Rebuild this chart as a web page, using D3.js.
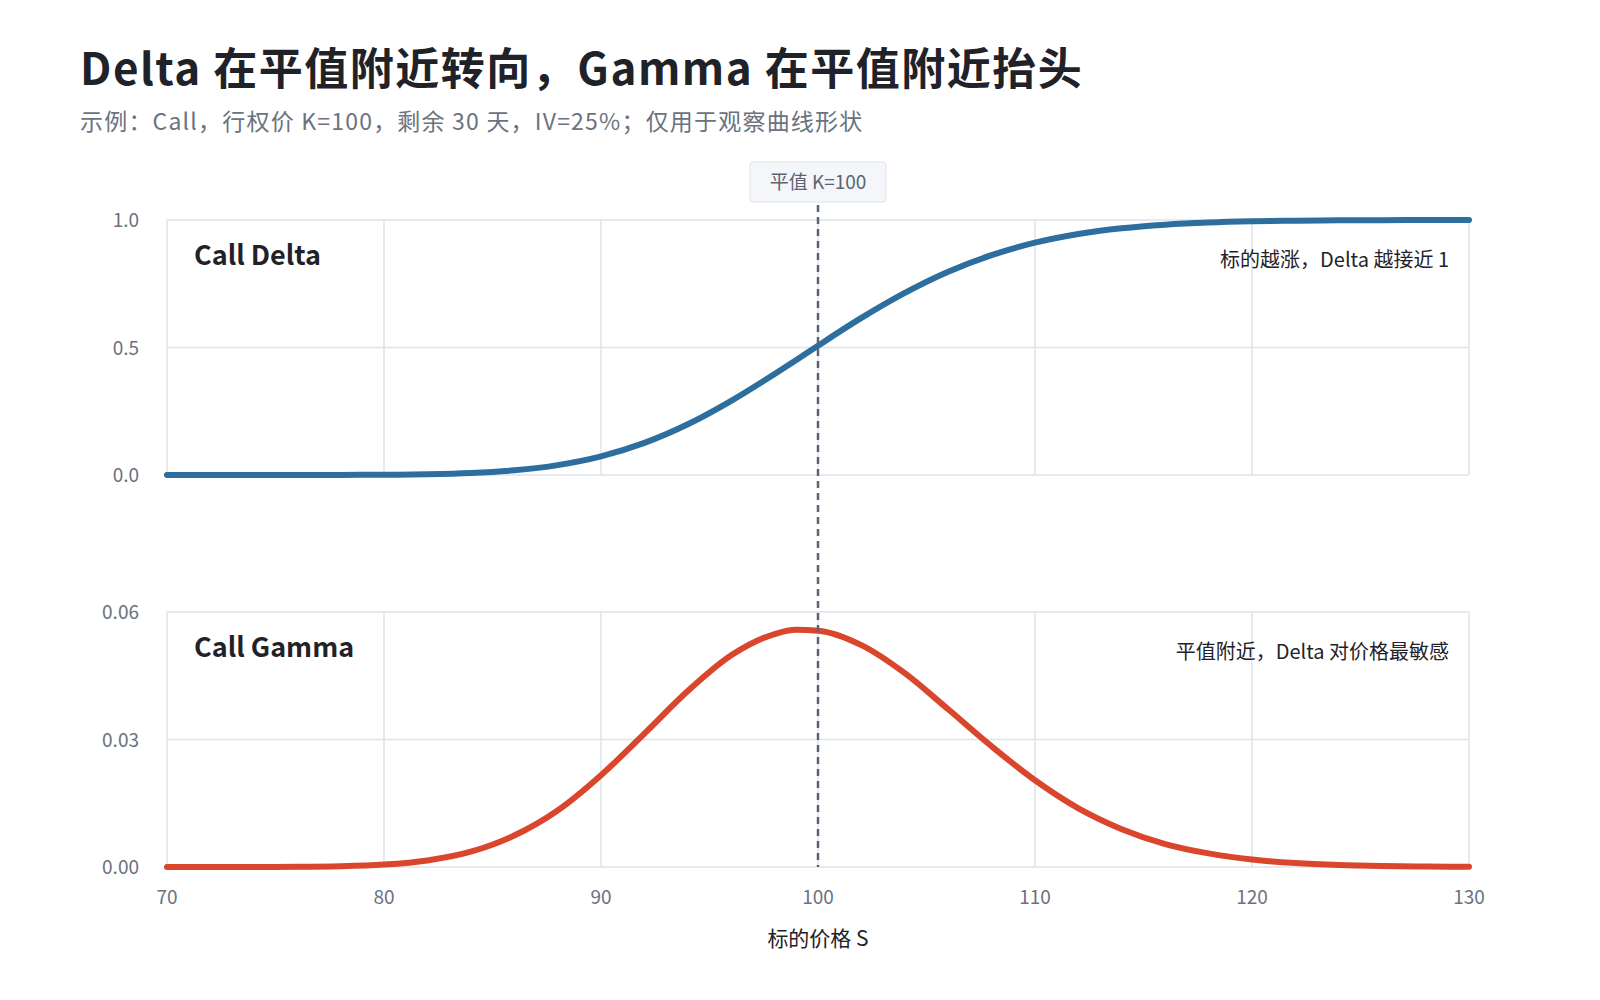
<!DOCTYPE html>
<html><head><meta charset="utf-8">
<script src="https://cdn.jsdelivr.net/npm/d3@7"></script>
<style>html,body{margin:0;overflow:hidden;background:#fff;font-family:"Noto Sans CJK SC","Noto Sans",sans-serif;}svg{display:block}</style>
</head><body><svg id="c" width="1600" height="1000"></svg>
<script>
const prices = [70,72,74,76,78,80,82,84,86,88,90,92,94,96,98,99,100,102,104,106,108,110,112,114,116,118,120,122,124,126,128,130];
const deltaVals = [0,0,0,0.0001,0.0003,0.001,0.003,0.0079,0.0185,0.0388,0.0733,0.126,0.199,0.291,0.396,0.451,0.507,0.616,0.714,0.797,0.862,0.911,0.945,0.9675,0.9816,0.990,0.9948,0.9974,0.9987,0.9994,0.9997,0.9999];
const gammaVals = [0,0.00001,0.00002,0.00005,0.00018,0.00058,0.00155,0.0036,0.0074,0.0133,0.0216,0.0314,0.0414,0.0498,0.0548,0.0558,0.0556,0.0522,0.0456,0.0371,0.0284,0.0204,0.0138,0.0089,0.0054,0.0032,0.00176,0.00093,0.00047,0.00023,0.0001,0.00005];
const xTicks = [70,80,90,100,110,120,130];
const deltaTicks = [0,0.5,1];
const gammaTicks = [0,0.03,0.06];

const svg = d3.select("#c");
const L=167,R=1469;
const x = d3.scaleLinear().domain([70,130]).range([L,R]);
const yD = d3.scaleLinear().domain([0,1]).range([475,220]);
const yG = d3.scaleLinear().domain([0,0.06]).range([867,612]);
const grid="#dde3ec", tick="#6b7280";

svg.append("text").attr("x",80).attr("y",85).attr("font-size",44).attr("font-weight",700).attr("letter-spacing",1.5).attr("fill","#1f2329").text("Delta 在平值附近转向，Gamma 在平值附近抬头");
svg.append("text").attr("x",80).attr("y",130).attr("font-size",23).attr("letter-spacing",1.2).attr("fill","#6b7280").text("示例：Call，行权价 K=100，剩余 30 天，IV=25%；仅用于观察曲线形状");

function panel(y, ticks, fmt, vals, color, title, note){
  const g=svg.append("g");
  g.selectAll(".v").data(xTicks).join("line").attr("x1",d=>x(d)).attr("x2",d=>x(d)).attr("y1",y.range()[1]).attr("y2",y.range()[0]).attr("stroke",grid).attr("stroke-width",1.5);
  g.selectAll(".h").data(ticks).join("line").attr("x1",L).attr("x2",R).attr("y1",d=>y(d)).attr("y2",d=>y(d)).attr("stroke",grid).attr("stroke-width",1.5);
  g.selectAll(".t").data(ticks).join("text").attr("x",L-28).attr("y",d=>y(d)+7).attr("text-anchor","end").attr("font-size",19).attr("fill",tick).text(fmt);
  g.append("path").datum(prices.map((p,i)=>[p,vals[i]])).attr("fill","none").attr("stroke",color).attr("stroke-width",6).attr("stroke-linecap","round")
   .attr("d",d3.line().x(d=>x(d[0])).y(d=>y(d[1])).curve(d3.curveMonotoneX));
  g.append("text").attr("x",194).attr("y",y.range()[1]+45).attr("font-size",27).attr("font-weight",700).attr("fill","#1f2329").text(title);
  g.append("text").attr("x",1449).attr("y",y.range()[1]+47).attr("text-anchor","end").attr("font-size",20).attr("fill","#1f2329").text(note);
}
panel(yD, deltaTicks, d=>d.toFixed(1), deltaVals, "#2e6e9e", "Call Delta", "标的越涨，Delta 越接近 1");
panel(yG, gammaTicks, d=>d.toFixed(2), gammaVals, "#d9462c", "Call Gamma", "平值附近，Delta 对价格最敏感");

svg.selectAll(".xt").data(xTicks).join("text").attr("x",d=>x(d)).attr("y",904).attr("text-anchor","middle").attr("font-size",19).attr("fill",tick).text(d=>d);
svg.append("text").attr("x",818).attr("y",946).attr("text-anchor","middle").attr("font-size",21).attr("fill","#1f2329").text("标的价格 S");

svg.append("line").attr("x1",x(100)).attr("x2",x(100)).attr("y1",205).attr("y2",867).attr("stroke","#5b6472").attr("stroke-width",2.5).attr("stroke-dasharray","7,5");
svg.append("rect").attr("x",x(100)-68).attr("y",162).attr("width",136).attr("height",40).attr("rx",3).attr("fill","#f4f6f9").attr("stroke","#dde3ec");
svg.append("text").attr("x",x(100)).attr("y",189).attr("text-anchor","middle").attr("font-size",19).attr("fill","#5b6472").text("平值 K=100");
</script></body></html>
